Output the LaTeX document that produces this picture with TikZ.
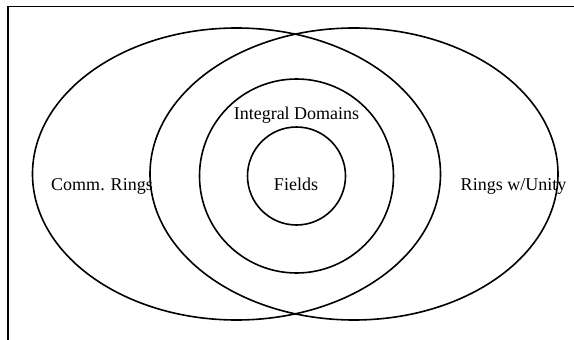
\documentclass[tikz,border=0pt]{standalone}
\usepackage{fontspec}
\setmainfont{Liberation Serif}
\usetikzlibrary{shapes.geometric}
\begin{document}
\begin{tikzpicture}[x=1pt,y=-1pt,
  setline/.style={draw=black,line width=1.6pt},
  ring/.style={setline,ellipse,inner sep=0pt,minimum width=408pt,minimum height=292pt},
  disc/.style={setline,circle,inner sep=0pt},
  lbl/.style={anchor=base,inner sep=0pt,font=\fontsize{18}{20}\selectfont}]
\useasboundingbox (0,0) rectangle (574,340);
\draw[line width=1.8pt] (574,6.5) -- (8,6.5) -- (8,340);
\node[ring] (comm) at (236.5,174) {};
\node[ring] (unity) at (354,174) {};
\node[disc,minimum size=194pt] (domains) at (296.5,176) {};
\node[disc,minimum size=98pt] (fields) at (296.5,176) {};
\node[lbl] (commlbl) at (102,190) {Comm. Rings};
\node[lbl] (unitylbl) at (513.5,190) {Rings w/Unity};
\node[lbl] (domlbl) at (296.5,119) {Integral Domains};
\node[lbl] (fieldlbl) at (296,190) {Fields};
\end{tikzpicture}
\end{document}
